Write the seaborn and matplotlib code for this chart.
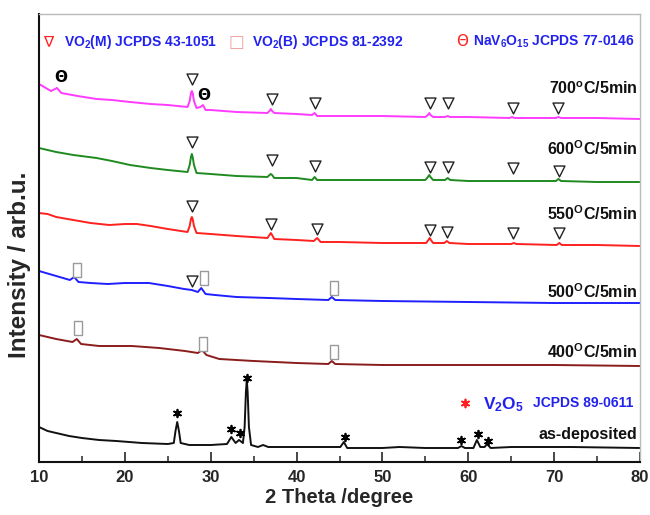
import matplotlib
matplotlib.use("Agg")
import matplotlib.pyplot as plt
import numpy as np
import pandas as pd
import seaborn as sns

# ---------------- data ----------------
theta_700 = [10, 11.4, 12.1, 12.6, 14.5, 16.7, 18.5, 20.6, 23, 25, 27.3, 27.55, 27.7, 27.8, 27.9, 28.05, 28.35,
             28.8, 29.1, 29.4, 30, 33, 36.6, 36.85, 37.0, 37.15, 37.4, 40, 41.8, 42.1, 42.4, 45, 50, 55.0,
             55.3, 55.45, 55.6, 55.9, 57.3, 57.6, 57.9, 60, 64.8, 65.1, 65.4, 70.2, 70.5, 70.8, 75, 80]
int_700 = [378, 371, 374, 369, 366, 363, 362, 360, 358, 357, 355, 361, 369, 371, 369, 361, 354,
           355, 357, 352, 352, 350, 349, 351, 353, 351, 349, 348, 347, 349, 346, 346, 346, 345,
           347, 349, 347, 345, 345, 346, 345, 345, 344, 345, 344, 344, 345, 344, 344, 343]

theta_600 = [10, 12, 14, 16.7, 18.5, 20.6, 23, 25, 27.3, 27.55, 27.7, 27.8, 27.9, 28.05, 28.35, 30, 33,
             36.6, 36.85, 37.0, 37.15, 37.4, 40, 41.8, 42.1, 42.4, 45, 50, 55.0, 55.3, 55.45, 55.6, 55.9,
             57.3, 57.6, 57.9, 60, 65, 70.2, 70.5, 70.8, 75, 80]
int_600 = [314, 310, 307, 304, 301, 297, 294, 292, 290, 297, 305, 308, 305, 297, 289, 288, 286,
           285, 287, 288, 287, 284, 284, 282, 285, 282, 282, 282, 282, 285, 287, 285, 282,
           282, 284, 282, 281, 281, 281, 283, 281, 280, 280]

theta_550 = [10, 11, 12, 14, 16, 18.2, 20, 21.4, 23, 25, 27.3, 27.55, 27.7, 27.8, 27.9, 28.05, 28.35, 30,
             33, 36.6, 36.85, 37.0, 37.15, 37.4, 40, 42.0, 42.4, 42.8, 45, 50, 55.1, 55.35, 55.5, 55.65,
             55.9, 57.2, 57.5, 57.8, 60, 65.0, 65.3, 65.6, 70.3, 70.6, 70.9, 75, 80]
int_550 = [249, 248, 245, 242, 239, 237, 238, 238, 236, 233, 230, 236, 243, 245, 243, 236, 229, 228,
           226, 224, 227, 229, 227, 223, 222, 221, 224, 220, 220, 219, 219, 222, 224, 222,
           219, 219, 221, 219, 218, 218, 219, 218, 217, 219, 217, 217, 216]

theta_500 = [10, 12, 13.6, 14.1, 14.6, 16, 18, 20, 22.8, 25, 26.9, 27.8, 28.5, 28.9, 29.4, 30.5, 33, 36.8,
             40, 43.7, 44.1, 44.5, 50, 60, 70, 80]
int_500 = [191, 186, 182, 185, 180, 179, 178, 179, 179, 176, 173, 172, 170, 174, 168, 167, 165, 164,
           163, 162, 165, 162, 161, 160, 159, 159]

theta_400 = [10, 12, 13.9, 14.4, 14.9, 17, 20.8, 24, 27, 28.5, 29.0, 29.5, 31, 35, 40, 43.7, 44.1, 44.5,
             50, 60, 70, 80]
int_400 = [127, 123, 120, 123, 118, 116, 116, 114, 111, 109, 112, 107, 103, 101, 99, 98, 101, 98,
           97, 97, 97, 96]

theta_dep = [10, 11, 12, 13.5, 15, 17, 19, 22, 25, 25.7, 25.9, 26.1, 26.3, 26.5, 27.5, 30, 31.9, 32.4,
             32.9, 33.3, 33.75, 33.95, 34.1, 34.2, 34.3, 34.45, 34.7, 35.5, 36.1, 36.7, 40, 45.1, 45.5,
             45.9, 50, 52, 55, 58.8, 59.2, 59.6, 60.6, 61.0, 61.4, 61.9, 62.2, 62.6, 65, 68, 72, 80]
int_dep = [35, 31, 29, 26, 24, 22, 21, 19, 18, 19, 31, 40, 31, 19, 17, 17, 18, 25,
           19, 22, 19, 35, 70, 82, 70, 35, 17, 15, 17, 15, 15, 15, 20,
           14, 14, 15, 14, 14, 16, 14, 14, 22, 15, 15, 18, 14, 15, 15, 15, 14]

series_names = ["700", "600", "550", "500", "400", "as-deposited"]
series_colors = ["#ff3bff", "#1f8a1f", "#ff2020", "#1f1fff", "#8b1c1c", "#111111"]
series_labels = ["700$^{\\rm o}$C/5min", "600$^{\\rm O}$C/5min", "550$^{\\rm O}$C/5min",
                 "500$^{\\rm O}$C/5min", "400$^{\\rm O}$C/5min", "as-deposited"]
label_y = [373, 313, 248, 170, 110, 28]

# phase markers (2theta, intensity)
vo2m_theta = [27.8, 37.1, 42.2, 55.5, 57.6, 65.2, 70.5,
              27.8, 37.1, 42.2, 55.5, 57.6, 65.2, 70.6,
              27.8, 37.0, 42.4, 55.5, 57.5, 65.2, 70.6,
              27.8]
vo2m_int = [383, 363, 359, 359, 359, 354, 354,
            320, 302, 296, 295, 295, 294, 291,
            256, 238, 233, 232, 230, 229, 229,
            181]
vo2b_theta = [14.4, 29.2, 44.4, 14.5, 29.1, 44.4]
vo2b_int = [192, 184, 174, 134, 118, 110]
nav_theta = [12.5, 29.2]
nav_int = [385, 366]
v2o5_theta = [26.1, 32.4, 33.4, 34.2, 45.6, 59.2, 61.1, 62.3]
v2o5_int = [49, 33, 29, 84, 25, 22, 28, 21]

# ---------------- style ----------------
sns.set_theme(style="white")
plt.rcParams["font.family"] = ["Liberation Sans", "DejaVu Sans"]
plt.rcParams["mathtext.fontset"] = "custom"
plt.rcParams["mathtext.rm"] = "Liberation Sans:bold"
plt.rcParams["mathtext.bf"] = "Liberation Sans:bold"
plt.rcParams["mathtext.it"] = "Liberation Sans:bold"
plt.rcParams["mathtext.sf"] = "Liberation Sans:bold"
plt.rcParams["mathtext.default"] = "rm"

fig = plt.figure(figsize=(6.5, 5.15), dpi=100)
ax = fig.add_axes([39 / 650, 53 / 515, 601 / 650, 448 / 515])

frames = []
for name, th, it in zip(series_names,
                        [theta_700, theta_600, theta_550, theta_500, theta_400, theta_dep],
                        [int_700, int_600, int_550, int_500, int_400, int_dep]):
    frames.append(pd.DataFrame({"theta": th, "intensity": it, "sample": name}))
df = pd.concat(frames, ignore_index=True)

sns.lineplot(data=df, x="theta", y="intensity", hue="sample", hue_order=series_names,
             palette=series_colors, estimator=None, sort=True, legend=False, lw=1.4, ax=ax)

# markers
ax.scatter(vo2m_theta, vo2m_int, marker="v", s=62, facecolors="white", edgecolors="#222222",
           linewidths=1.0, zorder=5)
rect = [(-0.33, -0.5), (0.33, -0.5), (0.33, 0.5), (-0.33, 0.5), (-0.33, -0.5)]
ax.scatter(vo2b_theta, vo2b_int, marker=rect, s=90, facecolors="white", edgecolors="#9a9a9a",
           linewidths=1.0, zorder=5)
for t, v in zip(nav_theta, nav_int):
    ax.text(t, v, "Θ", ha="center", va="center", fontsize=11, color="black",
            family=["DejaVu Sans"], fontweight="bold", zorder=6)
ax.scatter(v2o5_theta, v2o5_int, marker=(6, 2, 0), s=30, color="black", linewidths=1.3, zorder=5)

# right labels
for lab, yv in zip(series_labels, label_y):
    ax.text(79.7, yv, lab, ha="right", va="center", fontsize=11.5, fontweight="bold", color="#111111")

# top legend
ly = 0.9375
ax.text(0.015, ly, "∇", transform=ax.transAxes, ha="center", va="center", color="#ff2020",
        fontsize=11, family=["DejaVu Sans"])
ax.text(0.042, ly, "VO$_2$(M) JCPDS 43-1051", transform=ax.transAxes, ha="left", va="center",
        color="#2222ee", fontsize=10, fontweight="bold")
ax.text(0.328, ly, "□", transform=ax.transAxes, ha="center", va="center", color="#f2a0a0",
        fontsize=12, family=["DejaVu Sans"])
ax.text(0.354, ly, "VO$_2$(B) JCPDS 81-2392", transform=ax.transAxes, ha="left", va="center",
        color="#2222ee", fontsize=10, fontweight="bold")
ax.text(0.704, ly, "Θ", transform=ax.transAxes, ha="center", va="center", color="#ff2020",
        fontsize=11, family=["DejaVu Sans"])
ax.text(0.722, ly, "NaV$_6$O$_{15}$ JCPDS 77-0146", transform=ax.transAxes, ha="left", va="center",
        color="#2222ee", fontsize=10, fontweight="bold")

# V2O5 legend
ax.scatter([59.6], [59], marker=(6, 2, 0), s=32, color="#ff2020", linewidths=1.3, zorder=5)
ax.text(61.7, 57, "V$_2$O$_5$", ha="left", va="center", color="#2222ee", fontsize=12.5, fontweight="bold")
ax.text(67.5, 59, "JCPDS 89-0611", ha="left", va="center", color="#2222ee", fontsize=10, fontweight="bold")

# axes
ax.set_xlim(10, 80)
ax.set_ylim(0, 448)
ax.set_xticks(np.arange(10, 81, 10))
ax.set_xticks(np.arange(15, 80, 10), minor=True)
ax.set_yticks([])
ax.tick_params(axis="x", which="major", direction="in", length=7, width=1.2, bottom=True, top=False,
               labelsize=12, pad=6)
ax.tick_params(axis="x", which="minor", direction="in", length=4, width=1.1, bottom=True, top=False)
for lbl in ax.get_xticklabels():
    lbl.set_fontweight("bold")
ax.set_xlabel("2 Theta /degree", fontsize=14.5, fontweight="bold", labelpad=2)
ax.set_ylabel("Intensity / arb.u.", fontsize=17.5, fontweight="bold")
ax.yaxis.set_label_coords(-0.014, 0.44)
for s in ["left", "bottom"]:
    ax.spines[s].set_color("#111111")
    ax.spines[s].set_linewidth(1.5)
for s in ["top", "right"]:
    ax.spines[s].set_color("#bbbbbb")
    ax.spines[s].set_linewidth(1.0)

fig.savefig("out.png", dpi=100)
